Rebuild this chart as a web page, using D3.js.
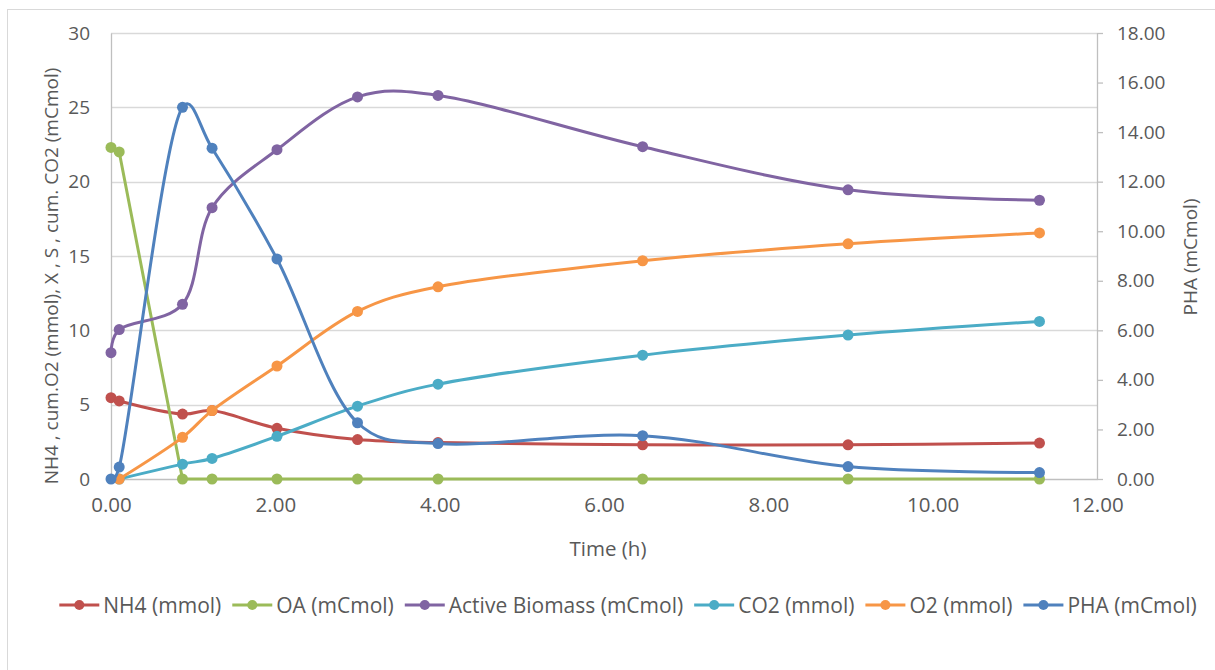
<!DOCTYPE html>
<html>
<head>
<meta charset="utf-8">
<script src="https://cdn.jsdelivr.net/npm/d3@7"></script>
<style>
    body { margin: 0; background: #ffffff; }
    text { font-family: "Open Sans", sans-serif; fill: #595959; }
</style>
</head>
<body>
<svg id="drawing_region"></svg>
<script>
// time points (h)
const time = [0, 0.1, 0.87, 1.23, 2.02, 3.0, 3.98, 6.47, 8.97, 11.3];

// primary axis series
const nh4     = [5.47, 5.25, 4.37, 4.6, 3.41, 2.65, 2.45, 2.3, 2.3, 2.42];
const oa      = [22.3, 22.0, 0, 0, 0, 0, 0, 0, 0, 0];
const biomass = [8.5, 10.05, 11.75, 18.25, 22.15, 25.7, 25.8, 22.35, 19.45, 18.75];
const co2     = [null, 0, 1.0, 1.38, 2.87, 4.9, 6.38, 8.33, 9.68, 10.6];
const o2      = [null, 0, 2.8, 4.6, 7.6, 11.27, 12.93, 14.68, 15.82, 16.55];

// secondary axis series
const pha     = [0, 0.48, 15.0, 13.35, 8.88, 2.27, 1.43, 1.75, 0.5, 0.26];

// tick labels
const xticks = [0, 2, 4, 6, 8, 10, 12];
const yticks = [0, 5, 10, 15, 20, 25, 30];
const y2ticks = [0, 2, 4, 6, 8, 10, 12, 14, 16, 18];

const series = [
    {name: 'NH4 (mmol)',            values: nh4,     color: '#C0504D', axis: 'left',  smooth: true},
    {name: 'OA (mCmol)',            values: oa,      color: '#9BBB59', axis: 'left',  smooth: false},
    {name: 'Active Biomass (mCmol)',values: biomass, color: '#8064A2', axis: 'left',  smooth: true},
    {name: 'CO2 (mmol)',            values: co2,     color: '#4BACC6', axis: 'left',  smooth: true},
    {name: 'O2 (mmol)',             values: o2,      color: '#F79646', axis: 'left',  smooth: true},
    {name: 'PHA (mCmol)',           values: pha,     color: '#4F81BD', axis: 'right', smooth: true}
];

const config = {
    parent: '#drawing_region',
    width: 1215,
    height: 670,
    margin: {top: 33, right: 118, bottom: 191, left: 111}
};

class ComboLine {
    constructor(config, series) {
        this.config = config;
        this.series = series;
        this.init();
    }

    init() {
        let self = this;
        self.svg = d3.select(self.config.parent)
            .attr('width', self.config.width)
            .attr('height', self.config.height);

        // outer chart border
        self.svg.append('rect')
            .attr('x', 7.5).attr('y', 9.5)
            .attr('width', 1230).attr('height', 700)
            .attr('fill', 'none')
            .attr('stroke', '#D9D9D9');

        self.inner_width = self.config.width - self.config.margin.left - self.config.margin.right;
        self.inner_height = self.config.height - self.config.margin.top - self.config.margin.bottom;

        self.chart = self.svg.append('g')
            .attr('transform', `translate(${self.config.margin.left}, ${self.config.margin.top})`);

        self.xscale = d3.scaleLinear().domain([0, 12]).range([0, self.inner_width]);
        self.yscale = d3.scaleLinear().domain([0, 30]).range([self.inner_height, 0]);
        self.y2scale = d3.scaleLinear().domain([0, 18]).range([self.inner_height, 0]);
    }

    render() {
        let self = this;
        const w = self.inner_width, h = self.inner_height;

        // gridlines
        self.chart.append('g')
            .selectAll('line')
            .data(yticks.filter(d => d > 0))
            .join('line')
            .attr('x1', 0).attr('x2', w)
            .attr('y1', d => Math.round(self.yscale(d)) + 0.5)
            .attr('y2', d => Math.round(self.yscale(d)) + 0.5)
            .attr('stroke', '#D9D9D9').attr('stroke-width', 1.3);

        // left axis
        const yaxis = d3.axisLeft(self.yscale).tickValues(yticks).tickSize(0).tickPadding(21)
            .tickFormat(d3.format('d'));
        const yg = self.chart.append('g').call(yaxis);
        yg.select('.domain').attr('stroke', '#BFBFBF').attr('stroke-width', 1.3);
        yg.selectAll('text').style('font-size', '19px').attr('fill', '#595959');

        // right axis
        const y2axis = d3.axisRight(self.y2scale).tickValues(y2ticks).tickSize(6).tickSizeOuter(0).tickPadding(14)
            .tickFormat(d3.format('.2f'));
        const y2g = self.chart.append('g').attr('transform', `translate(${w}, 0)`).call(y2axis);
        y2g.select('.domain').attr('stroke', '#BFBFBF').attr('stroke-width', 1.3);
        y2g.selectAll('line').attr('stroke', '#BFBFBF').attr('stroke-width', 1.3);
        y2g.selectAll('text').style('font-size', '19px').attr('fill', '#595959');

        // bottom axis
        const xaxis = d3.axisBottom(self.xscale).tickValues(xticks).tickSize(0).tickPadding(18)
            .tickFormat(d3.format('.2f'));
        const xg = self.chart.append('g').attr('transform', `translate(0, ${h})`).call(xaxis);
        xg.select('.domain').attr('stroke', '#BFBFBF').attr('stroke-width', 1.3);
        xg.selectAll('text').style('font-size', '20.5px').attr('fill', '#595959');

        // axis titles
        self.svg.append('text')
            .attr('transform', 'translate(51, 276) rotate(-90)')
            .attr('text-anchor', 'middle').attr('dominant-baseline', 'central')
            .style('font-size', '19px')
            .text('NH4 , cum.O2 (mmol), X , S , cum. CO2 (mCmol)');

        self.svg.append('text')
            .attr('transform', 'translate(1190, 257) rotate(-90)')
            .attr('text-anchor', 'middle').attr('dominant-baseline', 'central')
            .style('font-size', '19px')
            .text('PHA (mCmol)');

        self.svg.append('text')
            .attr('x', 608).attr('y', 548)
            .attr('text-anchor', 'middle').attr('dominant-baseline', 'central')
            .style('font-size', '20.5px')
            .text('Time (h)');

        // lines and markers
        self.series.forEach(s => {
            const ys = s.axis === 'left' ? self.yscale : self.y2scale;
            const pts = time.map((t, i) => ({x: t, y: s.values[i]})).filter(d => d.y !== null);
            const line = d3.line()
                .x(d => self.xscale(d.x))
                .y(d => ys(d.y))
                .curve(s.smooth ? d3.curveCatmullRom.alpha(0.3) : d3.curveLinear);

            const g = self.chart.append('g');
            g.append('path')
                .datum(pts)
                .attr('d', line)
                .attr('fill', 'none')
                .attr('stroke', s.color)
                .attr('stroke-width', 3)
                .attr('stroke-linejoin', 'round');
            g.selectAll('circle')
                .data(pts)
                .join('circle')
                .attr('cx', d => self.xscale(d.x))
                .attr('cy', d => ys(d.y))
                .attr('r', 5.5)
                .attr('fill', s.color);
        });

        // legend
        const legend = self.svg.append('g');
        const items = legend.selectAll('g')
            .data(self.series)
            .join('g');
        items.append('line')
            .attr('x1', 0).attr('x2', 40).attr('y1', 0).attr('y2', 0)
            .attr('stroke', d => d.color).attr('stroke-width', 3);
        items.append('circle')
            .attr('cx', 20).attr('cy', 0).attr('r', 5)
            .attr('fill', d => d.color);
        items.append('text')
            .attr('x', 44).attr('y', 0)
            .attr('dominant-baseline', 'central')
            .style('font-size', '21px')
            .text(d => d.name);

        let widths = [];
        items.each(function() {
            widths.push(44 + d3.select(this).select('text').node().getComputedTextLength());
        });
        const gap = 11;
        const total = d3.sum(widths) + gap * (widths.length - 1);
        let x = 628 - total / 2;
        items.each(function(d, i) {
            d3.select(this).attr('transform', `translate(${x}, 605)`);
            x += widths[i] + gap;
        });
    }
}

const chart = new ComboLine(config, series);
chart.render();
</script>
</body>
</html>
